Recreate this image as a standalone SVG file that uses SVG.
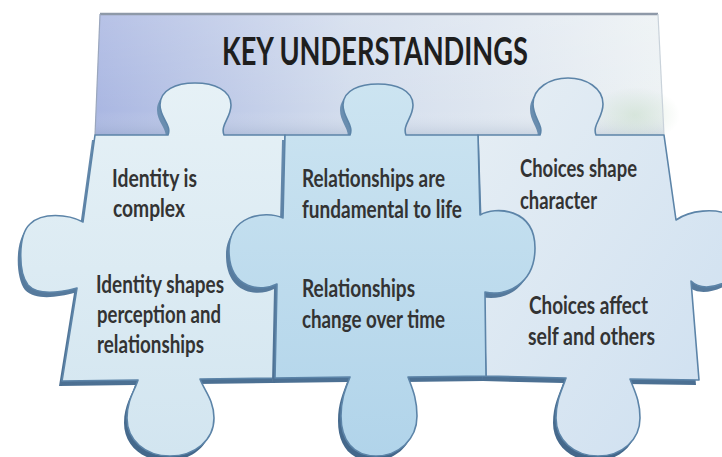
<svg xmlns="http://www.w3.org/2000/svg" width="722" height="457" viewBox="0 0 722 457">
<defs>
<linearGradient id="bannerG" x1="0" y1="0" x2="1" y2="0">
<stop offset="0" stop-color="#aab7e2"/>
<stop offset="0.45" stop-color="#d3dded"/>
<stop offset="1" stop-color="#edf2f4"/>
</linearGradient>
<linearGradient id="bannerV" x1="0" y1="0" x2="0" y2="1">
<stop offset="0" stop-color="#ffffff" stop-opacity="0.15"/>
<stop offset="0.8" stop-color="#ffffff" stop-opacity="0"/>
<stop offset="1" stop-color="#7f93b0" stop-opacity="0.25"/>
</linearGradient>
<radialGradient id="greenG" cx="0.5" cy="0.5" r="0.5">
<stop offset="0" stop-color="#c6dcc8" stop-opacity="0.55"/>
<stop offset="1" stop-color="#c6dcc8" stop-opacity="0"/>
</radialGradient>
<linearGradient id="p1G" x1="0" y1="0" x2="0" y2="1">
<stop offset="0" stop-color="#e6f1f6"/>
<stop offset="1" stop-color="#d2e5f0"/>
</linearGradient>
<linearGradient id="p2G" x1="0" y1="0" x2="0" y2="1">
<stop offset="0" stop-color="#cce4f1"/>
<stop offset="1" stop-color="#b1d4ea"/>
</linearGradient>
<linearGradient id="p3G" x1="0" y1="0" x2="1" y2="1">
<stop offset="0" stop-color="#e6eef4"/>
<stop offset="1" stop-color="#cddff0"/>
</linearGradient>
<linearGradient id="thickG" x1="0" y1="0" x2="0" y2="1">
<stop offset="0" stop-color="#6d91b3"/>
<stop offset="1" stop-color="#43678a"/>
</linearGradient>
<path id="shape1" d="M95,135 L168,135 C172,125 160,118 160,105 C160,90 176,83 195,83 C214,83 231,90 231,105 C231,118 220,125 224,135 L285,135 L275,378 L200,379 C204,390 214,400 214,418 C214,440 195,456 170,456 C145,456 127,440 127,418 C127,400 135,390 138,380 L62,381 L77,288 C62,292 38,296 28,285 C18,272 18,235 30,224 C42,212 68,214 83,222 Z"/>
<path id="shape3" d="M478,135 L540,135 C544,125 533,118 533,104 C533,88 550,78 568,78 C586,78 603,88 603,104 C603,118 592,125 596,135 L664,135 L676,220 C690,210 715,208 730,215 L730,280 C715,288 700,290 691,281 L699,380 L630,379 C634,390 640,400 640,418 C640,440 622,456 598,456 C574,456 556,440 556,418 C556,400 562,390 566,378 L486,376 Z"/>
<path id="shape2" d="M285,135 L350,135 C354,125 343,118 343,105 C343,90 360,84 378,84 C396,84 413,90 413,105 C413,118 402,125 406,135 L478,135 L480,215 C495,206 535,208 535,248 C535,285 505,297 485,292 L486,376 L408,377 C412,388 417,398 417,416 C417,440 398,456 376,456 C353,456 341,440 341,416 C341,398 346,388 350,377 L275,378 L277,284 C262,292 230,290 229,252 C228,215 265,210 283,218 Z"/>
</defs>
<style>
.thick{fill:url(#thickG);}
.edge{stroke:#5c84a8;stroke-width:1.6;stroke-linejoin:round;}
.lbl{font-family:Lato,"Liberation Sans",sans-serif;font-weight:bold;font-size:25px;fill:#333333;}
.title{font-family:Lato,"Liberation Sans",sans-serif;font-weight:bold;font-size:38px;fill:#1e1e1e;}
</style>
<rect width="722" height="457" fill="#ffffff"/>
<g id="banner">
<path d="M100,14 L658,14 L664,135 L95,135 Z" fill="url(#bannerG)"/>
<path d="M100,14 L658,14 L664,135 L95,135 Z" fill="url(#bannerV)"/>
<ellipse cx="635" cy="115" rx="45" ry="28" fill="url(#greenG)"/>
<path d="M100,14 L658,14" stroke="#8e99a8" stroke-width="2.5" fill="none"/>
<path d="M100,14 L95,135" stroke="#9aa6bd" stroke-width="1.2" fill="none"/>
<path d="M658,14 L664,135" stroke="#c9d2da" stroke-width="1.2" fill="none"/>
<text class="title" x="222" y="65" textLength="306" lengthAdjust="spacingAndGlyphs">KEY UNDERSTANDINGS</text>
</g>
<g id="piece-identity">
<use href="#shape1" class="thick" transform="translate(-3,5)"/>
<use href="#shape1" fill="url(#p1G)" class="edge"/>
<text class="lbl" x="112" y="187" textLength="85" lengthAdjust="spacingAndGlyphs">Identity is</text>
<text class="lbl" x="113" y="217" textLength="72" lengthAdjust="spacingAndGlyphs">complex</text>
<text class="lbl" x="96" y="293" textLength="128" lengthAdjust="spacingAndGlyphs">Identity shapes</text>
<text class="lbl" x="97" y="323" textLength="124" lengthAdjust="spacingAndGlyphs">perception and</text>
<text class="lbl" x="97" y="353" textLength="107" lengthAdjust="spacingAndGlyphs">relationships</text>
</g>
<g id="piece-choices">
<use href="#shape3" class="thick" transform="translate(-3,5)"/>
<use href="#shape3" fill="url(#p3G)" class="edge"/>
<text class="lbl" x="520" y="177" textLength="117" lengthAdjust="spacingAndGlyphs">Choices shape</text>
<text class="lbl" x="520" y="209" textLength="77" lengthAdjust="spacingAndGlyphs">character</text>
<text class="lbl" x="529" y="314" textLength="119" lengthAdjust="spacingAndGlyphs">Choices affect</text>
<text class="lbl" x="528" y="345" textLength="127" lengthAdjust="spacingAndGlyphs">self and others</text>
</g>
<g id="piece-relationships">
<use href="#shape2" class="thick" transform="translate(-3,5)"/>
<use href="#shape2" fill="url(#p2G)" class="edge"/>
<text class="lbl" x="302" y="187" textLength="143" lengthAdjust="spacingAndGlyphs">Relationships are</text>
<text class="lbl" x="302" y="218" textLength="160" lengthAdjust="spacingAndGlyphs">fundamental to life</text>
<text class="lbl" x="302" y="297" textLength="113" lengthAdjust="spacingAndGlyphs">Relationships</text>
<text class="lbl" x="302" y="328" textLength="143" lengthAdjust="spacingAndGlyphs">change over time</text>
</g>
<g id="connectors"></g>
</svg>
